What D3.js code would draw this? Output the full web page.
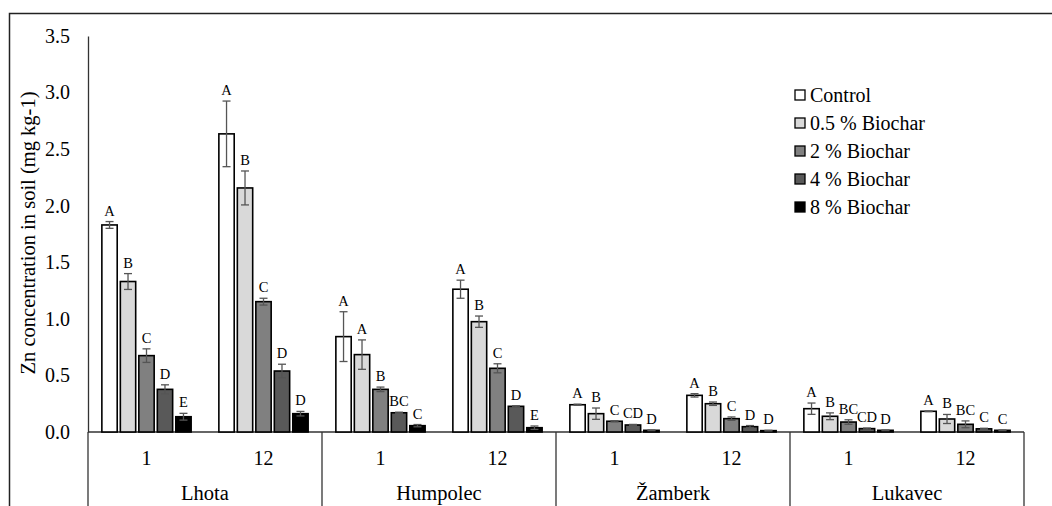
<!DOCTYPE html>
<html>
<head>
<meta charset="utf-8">
<script src="https://cdn.jsdelivr.net/npm/d3@7"></script>
</head>
<body style="margin:0">
<svg id="chart" width="1052" height="506"></svg>
<script>
// Sites and sampling months
const sites = ["Lhota", "Humpolec", "Žamberk", "Lukavec"];
const months = ["1", "12"];
const treatments = ["Control", "0.5 % Biochar", "2 % Biochar", "4 % Biochar", "8 % Biochar"];
const treatmentColors = ["#ffffff", "#d9d9d9", "#808080", "#595959", "#000000"];
const yTicks = [0, 0.5, 1.0, 1.5, 2.0, 2.5, 3.0, 3.5];

// Mean Zn concentration per site/month, one entry per treatment
const meanValues = [
  [1.83, 1.33, 0.675, 0.377, 0.135],   // Lhota 1
  [2.635, 2.157, 1.152, 0.539, 0.162], // Lhota 12
  [0.843, 0.684, 0.377, 0.17, 0.056],  // Humpolec 1
  [1.262, 0.975, 0.563, 0.227, 0.038], // Humpolec 12
  [0.241, 0.162, 0.095, 0.062, 0.015], // Žamberk 1
  [0.324, 0.25, 0.118, 0.047, 0.012],  // Žamberk 12
  [0.206, 0.139, 0.088, 0.03, 0.015],  // Lukavec 1
  [0.183, 0.115, 0.068, 0.028, 0.015]  // Lukavec 12
];
// Standard errors
const errorValues = [
  [0.03, 0.07, 0.06, 0.04, 0.03],
  [0.29, 0.15, 0.03, 0.06, 0.02],
  [0.22, 0.13, 0.02, 0.005, 0.01],
  [0.08, 0.05, 0.04, 0.005, 0.015],
  [0.005, 0.05, 0.005, 0.005, 0.003],
  [0.015, 0.015, 0.015, 0.01, 0.003],
  [0.05, 0.03, 0.02, 0.005, 0.003],
  [0.003, 0.04, 0.03, 0.005, 0.003]
];
// Significance letters
const letterLabels = [
  ["A", "B", "C", "D", "E"],
  ["A", "B", "C", "D", "D"],
  ["A", "A", "B", "BC", "C"],
  ["A", "B", "C", "D", "E"],
  ["A", "B", "C", "CD", "D"],
  ["A", "B", "C", "D", "D"],
  ["A", "B", "BC", "CD", "D"],
  ["A", "B", "BC", "C", "C"]
];

const FONT = "Liberation Serif";

const svg = d3.select("#chart");
const W = 1052, H = 506;
const plotLeft = 88, plotRight = 1024, plotTop = 36, plotBottom = 432;

// Outer frame (top and left edges visible)
svg.append("path")
  .attr("d", `M9.5,${H} V13.5 H${W}`)
  .attr("fill", "none").attr("stroke", "#222").attr("stroke-width", 1.5);

const y = d3.scaleLinear().domain([0, 3.5]).range([plotBottom, plotTop]);

const siteScale = d3.scaleBand().domain(sites).range([plotLeft, plotRight]).padding(0);
const monthScale = d3.scaleBand().domain(months).range([0, siteScale.bandwidth()]).padding(0);
const barScale = d3.scaleBand().domain(treatments)
  .range([0, monthScale.bandwidth()]).paddingInner(0.17).paddingOuter(0.75);

// Y axis
const yAxis = d3.axisLeft(y).tickValues(yTicks).tickSize(0).tickPadding(18)
  .tickFormat(d3.format(".1f"));
const yg = svg.append("g").attr("transform", `translate(${plotLeft},0)`).call(yAxis)
  .attr("font-family", FONT).attr("font-size", 20);
yg.select(".domain").attr("stroke", "#333").attr("stroke-width", 1.3);
yg.selectAll(".tick text").attr("fill", "#000");

// Y axis title
svg.append("text")
  .attr("transform", `translate(35,233) rotate(-90)`)
  .attr("text-anchor", "middle")
  .attr("font-family", FONT)
  .attr("font-size", 20.5)
  .text("Zn concentration in soil (mg kg-1)");

// Category axis: baseline and separators
svg.append("line")
  .attr("x1", plotLeft).attr("x2", plotRight)
  .attr("y1", plotBottom).attr("y2", plotBottom)
  .attr("stroke", "#333").attr("stroke-width", 1.3);

const seps = sites.map(s => siteScale(s)).concat([plotRight]);
svg.selectAll("line.sep").data(seps).join("line")
  .attr("class", "sep")
  .attr("x1", d => d).attr("x2", d => d)
  .attr("y1", plotBottom).attr("y2", H)
  .attr("stroke", "#333").attr("stroke-width", 1.3);

// Flattened records
const records = [];
sites.forEach((s, si) => {
  months.forEach((m, mi) => {
    const gi = si * 2 + mi;
    treatments.forEach((t, ti) => {
      records.push({ site: s, month: m, t, ti, v: meanValues[gi][ti], e: errorValues[gi][ti], lab: letterLabels[gi][ti] });
    });
  });
});

const bx = d => siteScale(d.site) + monthScale(d.month) + barScale(d.t);
const bw = barScale.bandwidth();

// Bars
svg.selectAll("rect.bar").data(records).join("rect")
  .attr("class", "bar")
  .attr("x", bx)
  .attr("y", d => y(d.v))
  .attr("width", bw)
  .attr("height", d => y(0) - y(d.v))
  .attr("fill", d => treatmentColors[d.ti])
  .attr("stroke", "#000").attr("stroke-width", 1.6);

// Error bars
const eg = svg.append("g").attr("stroke", "#555").attr("stroke-width", 1.3);
records.forEach(d => {
  const cx = bx(d) + bw / 2;
  const top = y(d.v + d.e), bot = y(Math.max(0, d.v - d.e));
  eg.append("line").attr("x1", cx).attr("x2", cx).attr("y1", top).attr("y2", bot);
  eg.append("line").attr("x1", cx - 4).attr("x2", cx + 4).attr("y1", top).attr("y2", top);
  eg.append("line").attr("x1", cx - 4).attr("x2", cx + 4).attr("y1", bot).attr("y2", bot);
});

// Significance letters
svg.selectAll("text.sig").data(records).join("text")
  .attr("class", "sig")
  .attr("x", d => bx(d) + bw / 2)
  .attr("y", d => y(d.v + d.e) - 6)
  .attr("text-anchor", "middle")
  .attr("font-family", FONT)
  .attr("font-size", 14.5)
  .text(d => d.lab);

// Month labels
svg.selectAll("text.month").data(sites.flatMap(s => months.map(m => ({ s, m })))).join("text")
  .attr("class", "month")
  .attr("x", d => siteScale(d.s) + monthScale(d.m) + monthScale.bandwidth() / 2)
  .attr("y", 465)
  .attr("text-anchor", "middle")
  .attr("font-family", FONT)
  .attr("font-size", 20)
  .text(d => d.m);

// Site labels
svg.selectAll("text.site").data(sites).join("text")
  .attr("class", "site")
  .attr("x", d => siteScale(d) + siteScale.bandwidth() / 2)
  .attr("y", 500)
  .attr("text-anchor", "middle")
  .attr("font-family", FONT)
  .attr("font-size", 20.5)
  .text(d => d);

// Legend
const lg = svg.append("g").attr("transform", "translate(795,95)");
treatments.forEach((t, i) => {
  const row = lg.append("g").attr("transform", `translate(0,${i * 28})`);
  row.append("rect").attr("x", 0).attr("y", -5).attr("width", 10).attr("height", 10)
    .attr("fill", treatmentColors[i]).attr("stroke", "#000").attr("stroke-width", 1.3);
  row.append("text").attr("x", 15).attr("y", 7).attr("font-family", FONT)
    .attr("font-size", 20).text(t);
});
</script>
</body>
</html>
